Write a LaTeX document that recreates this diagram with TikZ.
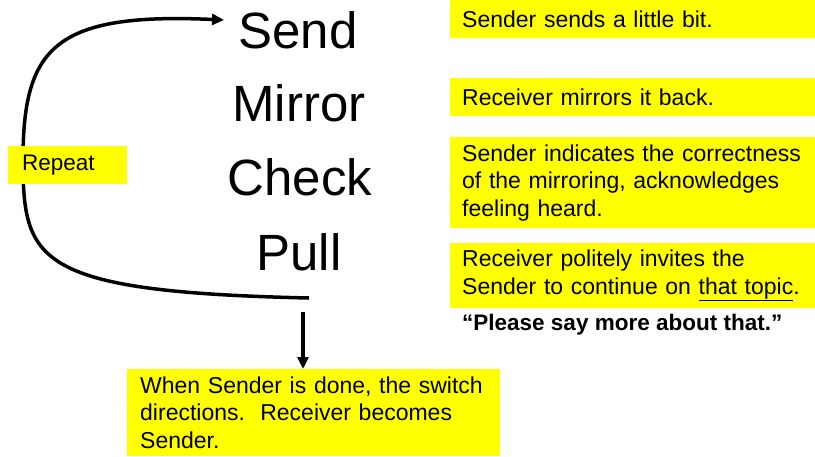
\documentclass[tikz,border=0pt]{standalone}
\usepackage{fontspec}
\setmainfont{Liberation Sans}
\usetikzlibrary{arrows.meta}
\definecolor{hl}{RGB}{255,255,0}
\begin{document}
\begin{tikzpicture}[x=1pt,y=-1pt,
  word/.style={inner sep=0pt, anchor=base, font=\fontsize{51}{55}\selectfont},
  ybox/.style={fill=hl, anchor=north west, inner xsep=12pt, inner ysep=0pt, align=left,
    font=\fontsize{23}{27.5}\selectfont},
  flow/.style={line width=3.5pt, -{Triangle[length=12pt,width=11pt]}}]
\useasboundingbox (0,0) rectangle (815,456);
\fill[white] (0,0) rectangle (815,456);
% words
\node[word] (send) at (298,48) {Send};
\node[word] (mirror) at (299,121) {Mirror};
\node[word] (check) at (300,195) {Check};
\node[word] (pull) at (299,270) {Pull};
% right boxes
\node[ybox, text width=341pt, minimum height=38pt] (b1) at (450,0) {Sender sends a little bit.};
\node[ybox, text width=341pt, minimum height=38pt] (b2) at (450,78) {Receiver mirrors it back.};
\node[ybox, text width=341pt, minimum height=91pt] (b3) at (450,137) {Sender indicates the correctness\\of the mirroring, acknowledges\\feeling heard.};
\node[ybox, text width=341pt, minimum height=65pt] (b4) at (450,243) {Receiver politely invites the\\Sender to continue on \underline{that topic}.};
\node[anchor=base west, inner sep=0pt, font=\fontsize{22.5}{27}\selectfont\bfseries] (quote) at (462,330) {“Please say more about that.”};
% loop connector (drawn below the Repeat label)
\coordinate (pullend) at (309,298);
\coordinate (tip) at (224,20);
\draw[flow] (pullend) .. controls (40,292) and (24,262) .. (23,167) .. controls (22,50) and (50,12) .. (tip);
% repeat
\node[ybox, inner xsep=14pt, text width=91pt, minimum height=38pt, font=\fontsize{22.5}{26}\selectfont] (rep) at (8,146) {Repeat};
% bottom box
\node[ybox, inner xsep=13pt, text width=347pt, minimum height=87pt] (b5) at (127,369) {When Sender is done, the switch\\directions.\ \ Receiver becomes\\Sender.};
% down connector
\coordinate (downstart) at (303,312);
\draw[flow] (downstart) -- (downstart |- b5.north);
\end{tikzpicture}
\end{document}
